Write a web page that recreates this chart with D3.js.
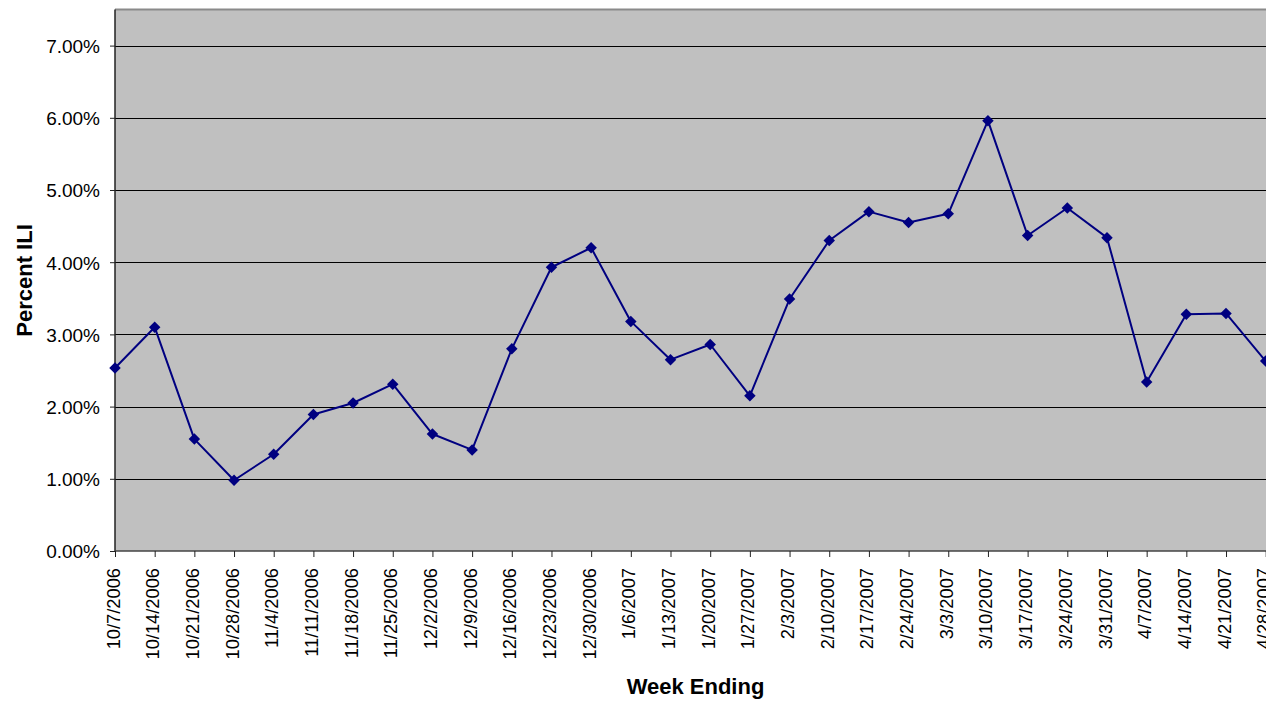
<!DOCTYPE html>
<html>
<head>
<meta charset="utf-8">
<script src="https://cdn.jsdelivr.net/npm/d3@7"></script>
<style>
  html, body { margin: 0; padding: 0; background: #ffffff; }
  svg { display: block; }
  text { font-family: "Liberation Sans", Arial, sans-serif; fill: #000; }
</style>
</head>
<body>
<svg id="chart" width="1266" height="701"></svg>
<script>
const weeks = ["10/7/2006","10/14/2006","10/21/2006","10/28/2006","11/4/2006","11/11/2006",
  "11/18/2006","11/25/2006","12/2/2006","12/9/2006","12/16/2006","12/23/2006","12/30/2006",
  "1/6/2007","1/13/2007","1/20/2007","1/27/2007","2/3/2007","2/10/2007","2/17/2007",
  "2/24/2007","3/3/2007","3/10/2007","3/17/2007","3/24/2007","3/31/2007","4/7/2007",
  "4/14/2007","4/21/2007","4/28/2007"];
const percentILI = [2.535, 3.10, 1.55, 0.98, 1.34, 1.89, 2.05, 2.31, 1.62, 1.40, 2.80, 3.93, 4.20,
  3.18, 2.65, 2.86, 2.15, 3.49, 4.30, 4.70, 4.55, 4.67, 5.96, 4.37, 4.75, 4.34, 2.34,
  3.28, 3.29, 2.63];
const yTickValues = [0, 1, 2, 3, 4, 5, 6, 7];
const yAxisTitle = "Percent ILI";
const xAxisTitle = "Week Ending";

(function () {
const svg = d3.select("#chart");
const plotLeft = 115, plotTop = 9.5, plotBottom = 551, lastX = 1265.7, plotRight = 1300;

const x = d3.scalePoint().domain(weeks).range([plotLeft, lastX]);
const y = d3.scaleLinear().domain([0, 7.5]).range([plotBottom, plotTop]);

// plot area
svg.append("rect")
  .attr("x", plotLeft).attr("y", plotTop)
  .attr("width", plotRight - plotLeft).attr("height", plotBottom - plotTop)
  .attr("fill", "#c0c0c0");
svg.append("line")
  .attr("x1", plotLeft).attr("x2", plotRight)
  .attr("y1", plotTop).attr("y2", plotTop)
  .attr("stroke", "#8a8a8a").attr("stroke-width", 2);

// gridlines
svg.append("g").selectAll("line")
  .data(yTickValues.filter(d => d > 0))
  .join("line")
  .attr("x1", plotLeft).attr("x2", plotRight)
  .attr("y1", d => Math.round(y(d)) + 0.5).attr("y2", d => Math.round(y(d)) + 0.5)
  .attr("stroke", "#000").attr("stroke-width", 1);

// y axis
const yAxis = svg.append("g")
  .attr("transform", `translate(${plotLeft},0)`)
  .call(d3.axisLeft(y).tickValues(yTickValues)
    .tickFormat(d => d.toFixed(2) + "%")
    .tickSize(5).tickPadding(10));
yAxis.select(".domain").attr("stroke", "#222").attr("stroke-width", 1.5)
  .attr("d", `M0,${plotTop}V${plotBottom}`);
yAxis.selectAll(".tick line").attr("stroke", "#222");
yAxis.selectAll(".tick text")
  .style("font-size", "19px")
  .style("font-family", "'Liberation Sans', Arial, sans-serif")
  .attr("dy", "0.36em");

// x axis
const xAxis = svg.append("g")
  .attr("transform", `translate(0,${plotBottom})`)
  .call(d3.axisBottom(x).tickSize(6).tickSizeOuter(0));
xAxis.select(".domain").attr("stroke", "#444").attr("stroke-width", 1.5)
  .attr("d", `M${plotLeft},0H${plotRight}`);
xAxis.selectAll(".tick line").attr("stroke", "#222");
xAxis.selectAll(".tick text")
  .style("font-size", "18.3px")
  .style("font-family", "'Liberation Sans', Arial, sans-serif")
  .attr("transform", "rotate(-90)")
  .attr("text-anchor", "end")
  .attr("x", -17)
  .attr("y", 0)
  .attr("dy", "0.22em");

// line
const data = weeks.map((w, i) => ({ w, v: percentILI[i] }));
svg.append("path")
  .datum(data)
  .attr("fill", "none")
  .attr("stroke", "#000080")
  .attr("stroke-width", 2)
  .attr("stroke-linejoin", "round")
  .attr("d", d3.line().x(d => x(d.w)).y(d => y(d.v)));

// markers
const diamond = d3.symbol().type(d3.symbolSquare).size(66);
svg.append("g").selectAll("path")
  .data(data)
  .join("path")
  .attr("d", diamond)
  .attr("transform", d => `translate(${x(d.w)},${y(d.v)}) rotate(45)`)
  .attr("fill", "#000080");

// axis titles
svg.append("text")
  .attr("transform", "translate(31.5,280.5) rotate(-90)")
  .attr("text-anchor", "middle")
  .style("font-size", "22px").style("font-weight", "bold")
  .text(yAxisTitle);
svg.append("text")
  .attr("x", 695.5).attr("y", 694)
  .attr("text-anchor", "middle")
  .style("font-size", "22px").style("font-weight", "bold")
  .text(xAxisTitle);
})();
</script>
</body>
</html>
